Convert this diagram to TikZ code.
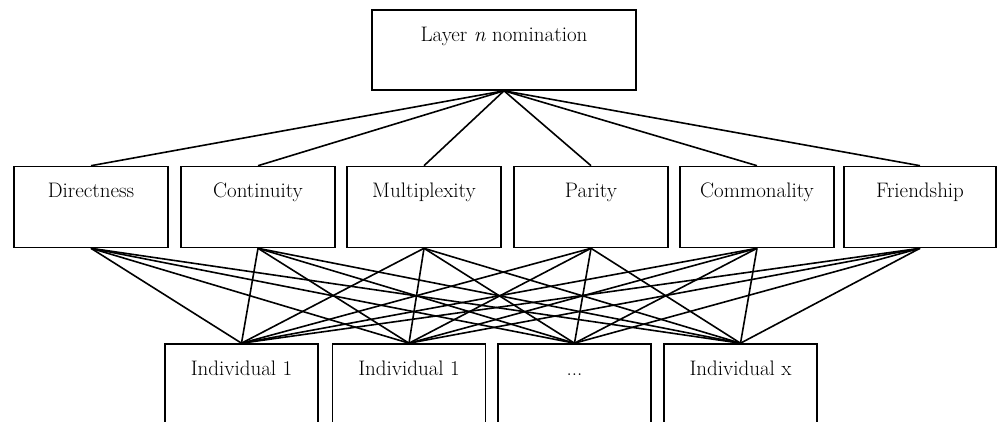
\documentclass[tikz,border=0pt]{standalone}
\usepackage{xcolor}
\begin{document}
\begin{tikzpicture}[x=1pt,y=-1pt,line width=1.6pt,
	box/.style={draw,rectangle,minimum width=154pt,minimum height=81pt,inner sep=0pt},
	lab/.style={anchor=base,yshift=-32pt,inner sep=0pt,font=\fontsize{21}{24}\selectfont}]
		\useasboundingbox(0,0) rectangle (997,422);
		\clip(0,0) rectangle (997,422);
		\node[box,minimum width=264pt,minimum height=80pt,label={[lab]north:Layer \textit{n} nomination}](top) at(504,50){};
		\node[box,label={[lab]north:Directness}](dir) at(91,207){};
		\node[box,label={[lab]north:Continuity}](con) at(258,207){};
		\node[box,label={[lab]north:Multiplexity}](mul) at(424,207){};
		\node[box,label={[lab]north:Parity}](par) at(591,207){};
		\node[box,label={[lab]north:Commonality}](com) at(757,207){};
		\node[box,minimum width=152pt,label={[lab]north:Friendship}](fri) at(920,207){};
		\node[box,minimum width=153pt,minimum height=100pt,label={[lab]north:Individual 1}](ind1) at(241.5,394){};
		\node[box,minimum width=153pt,minimum height=100pt,label={[lab]north:Individual 1}](ind2) at(409,394){};
		\node[box,minimum width=153pt,minimum height=100pt,label={[lab]north:...}](dots) at(574.5,394){};
		\node[box,minimum width=153pt,minimum height=100pt,label={[lab]north:Individual x}](indx) at(740.5,394){};
		\foreach \m in {dir,con,mul,par,com,fri}{
			\draw(top.south)--(\m.north);
			\foreach \b in {ind1,ind2,dots,indx} \draw(\m.south)--(\b.north);
		}
		\end{tikzpicture}
\end{document}
